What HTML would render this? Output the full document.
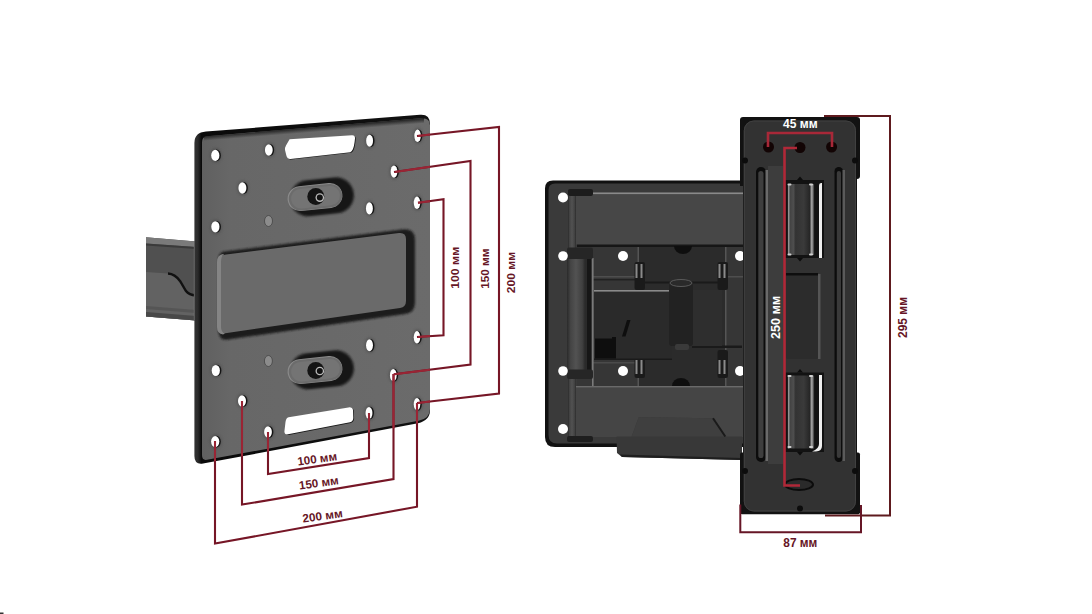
<!DOCTYPE html>
<html><head><meta charset="utf-8">
<style>
html,body{margin:0;padding:0;background:#fff;width:1092px;height:614px;overflow:hidden}
svg{display:block}
text{font-family:"Liberation Sans",sans-serif;font-weight:bold}
</style></head>
<body>
<svg width="1092" height="614" viewBox="0 0 1092 614">
<defs>
<linearGradient id="lpface" x1="0" y1="0" x2="1" y2="0">
<stop offset="0" stop-color="#606060"/><stop offset="0.12" stop-color="#676767"/><stop offset="1" stop-color="#6b6b6b"/>
</linearGradient>
<linearGradient id="lpedge" x1="0" y1="0" x2="1" y2="0">
<stop offset="0" stop-color="#333"/><stop offset="0.015" stop-color="#2a2a2a"/><stop offset="0.03" stop-color="#0a0a0a"/><stop offset="1" stop-color="#111"/>
</linearGradient>
<linearGradient id="cyl" x1="0" y1="0" x2="1" y2="0">
<stop offset="0" stop-color="#2a2a2a"/><stop offset="0.04" stop-color="#9a9a9a"/><stop offset="0.1" stop-color="#444"/><stop offset="0.22" stop-color="#4e4e4e"/><stop offset="0.3" stop-color="#333"/><stop offset="0.6" stop-color="#3a3a3a"/><stop offset="0.82" stop-color="#262626"/><stop offset="0.9" stop-color="#b0b0b0"/><stop offset="0.96" stop-color="#555"/><stop offset="1" stop-color="#1a1a1a"/>
</linearGradient>
<linearGradient id="tube" x1="0" y1="0" x2="1" y2="0">
<stop offset="0" stop-color="#2a2a2a"/><stop offset="0.2" stop-color="#444"/><stop offset="0.5" stop-color="#525252"/><stop offset="0.85" stop-color="#404040"/><stop offset="1" stop-color="#2a2a2a"/>
</linearGradient>
<radialGradient id="knobshadow" cx="0.6" cy="0.5" r="0.6">
<stop offset="0.6" stop-color="#151515"/><stop offset="1" stop-color="#151515" stop-opacity="0.6"/>
</radialGradient>
<filter id="b1" x="-10%" y="-10%" width="120%" height="120%"><feGaussianBlur stdDeviation="0.9"/></filter>
<filter id="b05" x="-10%" y="-10%" width="120%" height="120%"><feGaussianBlur stdDeviation="0.5"/></filter>
<linearGradient id="topshade" gradientUnits="userSpaceOnUse" x1="300" y1="128.2" x2="300.4" y2="133.2">
<stop offset="0" stop-color="#151515" stop-opacity="0.85"/><stop offset="1" stop-color="#151515" stop-opacity="0"/>
</linearGradient>
</defs>
<rect width="1092" height="614" fill="#fff"/>

<!-- ================= LEFT ARM ================= -->
<polygon points="146,237.3 196,241.5 196,320.6 146,316.4" fill="#505050"/>
<polygon points="146,237.3 196,241.5 196,247 146,243.5" fill="#7a7a7a"/>
<polygon points="146,243.5 196,247 196,249 146,245.5" fill="#3a3a3a"/>
<path d="M146,272 L168,273.5 Q175,274 180,281 L186,291 Q189,295 196,295.5 L196,320.6 L146,316.4 Z" fill="#626262"/>
<polygon points="146,306 196,310 196,313 146,309" fill="#555"/>
<polygon points="146,312 196,316 196,320.6 146,316.4" fill="#484848"/>
<path d="M168,273.5 Q175,274 180,281 L186,291 Q189,295 196,295.5" fill="none" stroke="#111" stroke-width="2.4"/>
<line x1="194.5" y1="241" x2="194.5" y2="321" stroke="#9a9a9a" stroke-width="1.2"/>

<!-- ================= LEFT PLATE ================= -->
<path d="M206,131.6 L420,114.8 Q430,114 430,124 L430,410 Q430,420.5 418,423.2 L203,463.6 Q194.4,465 194.4,456 L194.4,143 Q194.4,132.6 206,131.6 Z" fill="url(#lpedge)"/>
<path d="M207,136.2 L421,118.2 Q430,117.5 430,125.5 L430,409 Q430,418.5 418.5,420.8 L207,459.8 Q202,460.7 202,455 L202,142.5 Q202,136.6 207,136.2 Z" fill="url(#lpface)"/>
<polygon points="204,136.5 424,118 424,123.5 204,142" fill="url(#topshade)"/>

<!-- raised rect (embossed) -->
<path d="M224,251.5 L402,229.5 Q415,228 415,240 L415,303 Q415,312.5 405,314 L228,339.5 Q219,341 218.5,331 L218.5,259 Q219,252 224,251.5 Z" fill="#1e1e1e" filter="url(#b1)"/>
<path d="M226,254.5 L399,233 Q406,232.3 406,239 L406,301 Q406,307 400,308 L227,333 Q220,334 220,327 L220,261 Q220,255 226,254.5 Z" fill="#6a6a6a"/>
<path d="M217,262 Q217,255 223,254 L224,254.5 Q221,256 221,262 L221,327 Q221,332 225,333.5 L223,334.5 Q217,334 217,327 Z" fill="#858585"/>

<!-- hole rims -->
<g fill="#4a4a4a" opacity="0.5" filter="url(#b1)">
<ellipse cx="215.8" cy="155.4" rx="6.10" ry="7.60"/>
<ellipse cx="269.3" cy="150" rx="5.87" ry="7.76"/>
<ellipse cx="370.1" cy="140.7" rx="5.45" ry="8.06"/>
<ellipse cx="418.1" cy="135.8" rx="5.25" ry="8.21"/>
<ellipse cx="242.9" cy="188" rx="5.98" ry="7.68"/>
<ellipse cx="394.5" cy="171.7" rx="5.35" ry="8.14"/>
<ellipse cx="369.9" cy="208.4" rx="5.45" ry="8.06"/>
<ellipse cx="417.5" cy="202.8" rx="5.25" ry="8.21"/>
<ellipse cx="215.9" cy="226.8" rx="6.10" ry="7.60"/>
<ellipse cx="417.5" cy="337.3" rx="5.25" ry="8.21"/>
<ellipse cx="370.0" cy="345.3" rx="5.45" ry="8.06"/>
<ellipse cx="216.3" cy="370.5" rx="6.10" ry="7.60"/>
<ellipse cx="393.8" cy="375.2" rx="5.35" ry="8.13"/>
<ellipse cx="242.5" cy="401" rx="5.99" ry="7.68"/>
<ellipse cx="417.5" cy="404.2" rx="5.25" ry="8.21"/>
<ellipse cx="369.5" cy="413" rx="5.45" ry="8.06"/>
<ellipse cx="268.5" cy="432" rx="5.88" ry="7.76"/>
<ellipse cx="215.7" cy="441.6" rx="6.10" ry="7.60"/>
</g>
<g fill="#141414">
<ellipse cx="216.5" cy="155.4" rx="4.40" ry="5.80"/>
<ellipse cx="270.0" cy="150" rx="4.17" ry="5.96"/>
<ellipse cx="370.8" cy="140.7" rx="3.75" ry="6.26"/>
<ellipse cx="418.8" cy="135.8" rx="3.55" ry="6.41"/>
<ellipse cx="243.6" cy="188" rx="4.28" ry="5.88"/>
<ellipse cx="395.2" cy="171.7" rx="3.65" ry="6.34"/>
<ellipse cx="370.6" cy="208.4" rx="3.75" ry="6.26"/>
<ellipse cx="418.2" cy="202.8" rx="3.55" ry="6.41"/>
<ellipse cx="216.6" cy="226.8" rx="4.40" ry="5.80"/>
<ellipse cx="418.2" cy="337.3" rx="3.55" ry="6.41"/>
<ellipse cx="370.7" cy="345.3" rx="3.75" ry="6.26"/>
<ellipse cx="217.0" cy="370.5" rx="4.40" ry="5.80"/>
<ellipse cx="394.5" cy="375.2" rx="3.65" ry="6.33"/>
<ellipse cx="243.2" cy="401" rx="4.29" ry="5.88"/>
<ellipse cx="418.2" cy="404.2" rx="3.55" ry="6.41"/>
<ellipse cx="370.2" cy="413" rx="3.75" ry="6.26"/>
<ellipse cx="269.2" cy="432" rx="4.18" ry="5.96"/>
<ellipse cx="216.4" cy="441.6" rx="4.40" ry="5.80"/>
</g>
<g fill="#fff">
<ellipse cx="215.3" cy="155.4" rx="4.10" ry="5.60"/>
<ellipse cx="268.8" cy="150" rx="3.87" ry="5.76"/>
<ellipse cx="369.6" cy="140.7" rx="3.45" ry="6.06"/>
<ellipse cx="417.6" cy="135.8" rx="3.25" ry="6.21"/>
<ellipse cx="242.4" cy="188" rx="3.98" ry="5.68"/>
<ellipse cx="394.0" cy="171.7" rx="3.35" ry="6.14"/>
<ellipse cx="369.4" cy="208.4" rx="3.45" ry="6.06"/>
<ellipse cx="417.0" cy="202.8" rx="3.25" ry="6.21"/>
<ellipse cx="215.4" cy="226.8" rx="4.10" ry="5.60"/>
<ellipse cx="417.0" cy="337.3" rx="3.25" ry="6.21"/>
<ellipse cx="369.5" cy="345.3" rx="3.45" ry="6.06"/>
<ellipse cx="215.8" cy="370.5" rx="4.10" ry="5.60"/>
<ellipse cx="393.3" cy="375.2" rx="3.35" ry="6.13"/>
<ellipse cx="242.0" cy="401" rx="3.99" ry="5.68"/>
<ellipse cx="417.0" cy="404.2" rx="3.25" ry="6.21"/>
<ellipse cx="369.0" cy="413" rx="3.45" ry="6.06"/>
<ellipse cx="268.0" cy="432" rx="3.88" ry="5.76"/>
<ellipse cx="215.2" cy="441.6" rx="4.10" ry="5.60"/>
</g>
<!-- slots -->
<path d="M289.6,139.3 L352,135.3 Q355.2,135.2 355,138.5 L354.6,142 Q353.5,151 350.3,152.2 L290.5,159 Q287.5,159.3 286.5,156 L285,150 Q284.8,147.5 286,145.5 Z" fill="#1a1a1a" transform="translate(0.8,0.6)"/>
<path d="M289.6,139.3 L352,135.3 Q355.2,135.2 355,138.5 L354.6,142 Q353.5,151 350.3,152.2 L290.5,159 Q287.5,159.3 286.5,156 L285,150 Q284.8,147.5 286,145.5 Z" fill="#fff"/>
<path d="M288.6,417.3 L348.4,407.4 Q352.2,406.8 353,410 L353.3,418 Q353.2,421.3 350,422.3 L288,434.3 Q284.5,435 284.4,431.5 L285.5,422 Q286,418 288.6,417.3 Z" fill="#1a1a1a" transform="translate(0.8,0.6)"/>
<path d="M288.6,417.3 L348.4,407.4 Q352.2,406.8 353,410 L353.3,418 Q353.2,421.3 350,422.3 L288,434.3 Q284.5,435 284.4,431.5 L285.5,422 Q286,418 288.6,417.3 Z" fill="#fff"/>
<g fill="#8c8c8c" stroke="#4a4a4a" stroke-width="0.9">
<ellipse cx="268.5" cy="221" rx="4" ry="5.5"/>
<ellipse cx="268.4" cy="361" rx="4" ry="5.5"/>
</g>

<!-- knob slots -->
<g transform="rotate(-6 320 197)"><rect x="290" y="179" width="64" height="36" rx="18" fill="#161616" filter="url(#b1)"/><rect x="287.5" y="184" width="55" height="25" rx="12.5" fill="#8a8a8a"/><rect x="288.7" y="185" width="53.5" height="23.5" rx="11.7" fill="#6c6c6c"/><rect x="291" y="187" width="49" height="19.5" rx="9.7" fill="#747474"/></g>
<circle cx="315.8" cy="196.5" r="8.5" fill="#141414"/><circle cx="319.8" cy="197.6" r="4.3" fill="#bbb"/><circle cx="319.8" cy="197.6" r="3" fill="#111"/>
<g transform="rotate(-6 320 370)"><rect x="290" y="352" width="64" height="36" rx="18" fill="#161616" filter="url(#b1)"/><rect x="287.5" y="357" width="55" height="25" rx="12.5" fill="#8a8a8a"/><rect x="288.7" y="358" width="53.5" height="23.5" rx="11.7" fill="#6c6c6c"/><rect x="291" y="360" width="49" height="19.5" rx="9.7" fill="#747474"/></g>
<circle cx="315.8" cy="370.5" r="8.5" fill="#141414"/><circle cx="319.8" cy="371" r="4.3" fill="#bbb"/><circle cx="319.8" cy="371" r="3" fill="#111"/>

<!-- ================= LEFT RED DIMENSIONS ================= -->
<g fill="none" stroke="#761626" stroke-width="2.1">
<polyline points="417,136 499,127 499,393.5 417,403"/>
<polyline points="394,172 470.5,161 470.5,364.5 393.7,374.3"/>
<polyline points="418,202.8 443.5,199.3 443.5,335.2 417,337"/>
<polyline points="268,432 268,474 369,458 369,413"/>
<polyline points="242,401 242,504.6 393.5,479 393.5,374"/>
<polyline points="215,441 215,543.6 417,506.7 417,403"/>
</g>
<g fill="none" stroke="#9a2434" stroke-width="2">
<polyline points="418,135.9 430,134.6"/>
<polyline points="395,171.9 430,166.8"/>
<polyline points="418,202.7 430,201.2"/>
<polyline points="418,337 430,336.1"/>
<polyline points="394.5,374.2 430,369.7"/>
<polyline points="418,402.9 430,401.5"/>
<polyline points="268,432 268,451.5"/>
<polyline points="369,413 369,432.8"/>
<polyline points="242,401 242,456.2"/>
<polyline points="393.5,374 393.5,428.4"/>
<polyline points="215,441 215,461.2"/>
<polyline points="417,403 417,423.6"/>
</g>
<g fill="#661626" font-size="11.6">
<text transform="translate(458.6,288.8) rotate(-90)" textLength="42" lengthAdjust="spacingAndGlyphs">100 мм</text>
<text transform="translate(489.1,288.8) rotate(-90)" textLength="40.3" lengthAdjust="spacingAndGlyphs">150 мм</text>
<text transform="translate(514.6,293.2) rotate(-90)" textLength="41.3" lengthAdjust="spacingAndGlyphs">200 мм</text>
<text transform="translate(297.9,465.6) rotate(-7.8)" textLength="39.9" lengthAdjust="spacingAndGlyphs">100 мм</text>
<text transform="translate(299.5,489.6) rotate(-7.8)" textLength="39.9" lengthAdjust="spacingAndGlyphs">150 мм</text>
<text transform="translate(303.1,522.6) rotate(-7.8)" textLength="40.4" lengthAdjust="spacingAndGlyphs">200 мм</text>
</g>

<!-- ================= RIGHT ASSEMBLY ================= -->
<path d="M553,180.5 L760,180.5 L760,447 L555,447 Q545,447 545,437 L545,188.5 Q545,180.5 553,180.5 Z" fill="#111"/>
<path d="M555,183.5 L760,183.5 L760,443.5 L557,443.5 Q548.5,443.5 548.5,435 L548.5,190 Q548.5,183.5 555,183.5 Z" fill="#3a3a3a"/>
<!-- mechanism area -->
<rect x="577" y="244" width="166" height="142" fill="#363636"/>
<rect x="638" y="246" width="88" height="140" fill="#2b2b2b"/>
<rect x="637.5" y="246" width="1.5" height="140" fill="#555"/>
<rect x="725" y="246" width="1.5" height="140" fill="#555"/>
<rect x="593" y="276" width="45" height="1.5" fill="#4e4e4e"/>
<rect x="593" y="279" width="45" height="1.5" fill="#222"/>
<rect x="726" y="276" width="17" height="1.5" fill="#4e4e4e"/>
<rect x="593" y="362" width="45" height="1.5" fill="#4a4a4a"/>
<rect x="577" y="244" width="166" height="3" fill="#161616"/>
<path d="M674,246 A9,8 0 0 0 692,246 Z" fill="#0e0e0e"/>
<path d="M672,386 A9,8 0 0 1 690,386 Z" fill="#0e0e0e"/>
<rect x="645" y="281.5" width="73" height="2" fill="#1a1a1a"/>
<rect x="692" y="345.5" width="50" height="2.5" fill="#1a1a1a"/>
<!-- hinge clamps -->
<g fill="#1a1a1a"><rect x="634.5" y="262" width="10.5" height="28" rx="2"/><rect x="717.5" y="262" width="10.5" height="28" rx="2"/>
<rect x="634.5" y="350" width="10.5" height="28" rx="2"/><rect x="717.5" y="350" width="10.5" height="28" rx="2"/></g>
<g fill="#8a8a8a"><rect x="635.5" y="264" width="2" height="14"/><rect x="640.5" y="264" width="2" height="14"/><rect x="718.5" y="264" width="2" height="14"/><rect x="723.5" y="264" width="2" height="14"/>
<rect x="635.5" y="360" width="2" height="14"/><rect x="640.5" y="360" width="2" height="14"/><rect x="718.5" y="360" width="2" height="14"/><rect x="723.5" y="360" width="2" height="14"/></g>
<!-- tilt box -->
<rect x="594" y="290" width="78" height="70" fill="#2a2a2a"/>
<rect x="594" y="290" width="78" height="1.6" fill="#8a8a8a"/>
<rect x="594" y="358.5" width="78" height="1.5" fill="#1a1a1a"/>
<rect x="595" y="338.5" width="21" height="20" fill="#0e0e0e"/><rect x="612" y="337" width="4" height="2" fill="#0e0e0e"/>
<polygon points="627,320 630.5,320 625.5,336.5 622,336.5" fill="#0e0e0e"/>
<rect x="692" y="290" width="30" height="56" fill="#2e2e2e"/>
<rect x="669" y="283" width="24" height="63" rx="3" fill="#222"/>
<ellipse cx="681" cy="283" rx="11" ry="3.5" fill="#2a2a2a" stroke="#5a5a5a" stroke-width="1"/>
<rect x="675" y="344" width="14" height="6" rx="2" fill="#3a3a3a"/>
<!-- arms -->
<rect x="576" y="192.5" width="167" height="52" fill="#474747"/>
<rect x="576" y="192.5" width="167" height="1.6" fill="#8a8a8a"/>
<rect x="576" y="386" width="167" height="51" fill="#454545"/>
<rect x="576" y="386" width="167" height="1.4" fill="#6a6a6a"/>
<polygon points="616.5,436.5 631.7,436.5 638.7,417.3 713,418.3 725.3,436.5 742,436.5 742,460 622,457 617,453" fill="#383838"/>
<polygon points="631.7,436.5 638.7,417.3 713,418.3 725.3,436.5" fill="#3f3f3f"/>
<path d="M713,418.3 L725.3,436.5" stroke="#1a1a1a" stroke-width="2"/>
<polygon points="620,454.5 742,458 742,460 622,457" fill="#1e1e1e"/>
<!-- pivot tube -->
<rect x="568" y="190" width="8" height="60" fill="url(#tube)"/>
<rect x="567" y="258" width="18" height="112" fill="url(#tube)"/>
<rect x="585" y="258" width="2" height="112" fill="#2a2a2a"/><rect x="587" y="258" width="4" height="112" fill="#161616"/>
<rect x="592" y="258" width="1.6" height="128" fill="#7a7a7a"/>
<rect x="568" y="378" width="8" height="60" fill="url(#tube)"/>
<rect x="568" y="189" width="25" height="7" rx="2" fill="#1c1c1c"/>
<rect x="567" y="247.5" width="26" height="11.5" rx="2" fill="#262626"/>
<rect x="567" y="369.5" width="26" height="9.5" rx="2" fill="#262626"/>
<rect x="567" y="436" width="26" height="6" rx="2" fill="#1e1e1e"/>
<!-- holes -->
<g fill="#fff">
<circle cx="563" cy="197.5" r="5"/><circle cx="563" cy="256" r="4.8"/><circle cx="563" cy="371" r="4.8"/><circle cx="563" cy="429" r="5"/>
<circle cx="623" cy="256" r="5"/><circle cx="623" cy="371" r="5"/><circle cx="740" cy="256" r="5"/><circle cx="740" cy="371" r="5"/>
</g>

<!-- ================= VERTICAL PLATE ================= -->
<rect x="740" y="117" width="120" height="62" rx="3" fill="#121212"/><rect x="740" y="170" width="5" height="16" fill="#121212"/>
<rect x="740" y="452.5" width="120" height="61.8" rx="2" fill="#121212"/>
<rect x="743" y="170" width="114" height="290" fill="#121212"/>
<rect x="743.8" y="120.5" width="112.2" height="391" rx="10" fill="#323232"/>
<rect x="744.3" y="121" width="111.2" height="390" rx="9.5" fill="none" stroke="#404040" stroke-width="1"/>
<!-- slots -->
<rect x="768" y="166" width="15" height="298" fill="#3d3d3d"/>
<rect x="756" y="167" width="10" height="295" rx="5" fill="#0c0c0c"/>
<rect x="758.3" y="171" width="5.2" height="287" rx="2.6" fill="#3e3e3e"/>
<rect x="765.5" y="170" width="2.5" height="291" fill="#6a6a6a"/>
<rect x="834.5" y="167" width="8.5" height="295" rx="4.2" fill="#0c0c0c"/>
<rect x="836.8" y="171" width="4.2" height="287" rx="2.1" fill="#3a3a3a"/>
<rect x="842.5" y="170" width="2.5" height="291" fill="#5a5a5a"/>
<!-- hinges -->
<rect x="785.5" y="180" width="38.5" height="78" fill="#121212"/>
<rect x="787.5" y="184" width="27" height="71" fill="url(#cyl)"/>
<path d="M819,185.5 Q819,183 821,183 L822,183 L822,258 L819,258 Z" fill="#eee"/>
<rect x="786" y="273" width="32" height="86" rx="2" fill="#2c2c2c"/><rect x="786" y="273" width="32" height="2.5" fill="#0e0e0e"/><rect x="818" y="274" width="2.5" height="85" fill="#555"/>
<rect x="785.5" y="372.5" width="38.5" height="79.5" fill="#121212"/>
<rect x="787.5" y="375.5" width="27" height="73" fill="url(#cyl)"/>
<path d="M819,375 L822,375 L822,446 Q822,451 816,451.5 L812,451.5 Q819,449 819,444 Z" fill="#eee"/>
<g fill="#d0d0d0">
<rect x="787.5" y="183.5" width="4" height="2" rx="1"/><rect x="809" y="183.5" width="4" height="2" rx="1"/>
<rect x="787.5" y="253.5" width="4" height="2" rx="1"/><rect x="809" y="253.5" width="4" height="2" rx="1"/>
<rect x="787.5" y="375" width="4" height="2" rx="1"/><rect x="809" y="375" width="4" height="2" rx="1"/>
<rect x="787.5" y="446" width="4" height="2" rx="1"/><rect x="809" y="446" width="4" height="2" rx="1"/>
</g>
<g fill="#0c0c0c">
<path d="M797,180 L800,176.5 L803,180 Z"/><path d="M797,258 L800,261.5 L803,258 Z"/>
<path d="M797,372.5 L800,369 L803,372.5 Z"/><path d="M797,452 L800,455.5 L803,452 Z"/>
</g>
<ellipse cx="799" cy="484.5" rx="14" ry="5.5" fill="#2a2a2a" stroke="#0c0c0c" stroke-width="2"/>
<!-- notches -->
<g fill="#0c0c0c">
<circle cx="745" cy="160.5" r="3"/><circle cx="855" cy="160.5" r="3"/>
<circle cx="745" cy="471" r="3"/><circle cx="855" cy="471" r="3"/>
<circle cx="800" cy="508.4" r="3"/>
</g>
<!-- top holes -->
<g fill="#120404">
<circle cx="768.5" cy="147" r="5.5"/><circle cx="800" cy="147.5" r="5.5"/><circle cx="831.6" cy="147" r="5.5"/>
</g>

<!-- ================= RIGHT RED DIMENSIONS ================= -->
<g fill="none" stroke-width="2">
<polyline stroke="#a82838" stroke-width="2.6" points="768,147 768,133 832,133 832,147"/>
<polyline stroke="#b02838" stroke-width="2.6" points="797,148 784.5,148 784.5,485.5 800,485.5"/>
<polyline stroke="#5e1a1e" points="824,116 890,116 890,515.5 825,515.5"/>
<polyline stroke="#661626" points="740.3,504.5 740.3,532.3 861,532.3 861,505"/>
</g>
<text x="783" y="128" fill="#fff" font-size="12.8" textLength="34.6" lengthAdjust="spacingAndGlyphs">45 мм</text>
<text transform="translate(779.6,339) rotate(-90)" fill="#fff" font-size="13.2" textLength="43" lengthAdjust="spacingAndGlyphs">250 мм</text>
<text transform="translate(907,338) rotate(-90)" fill="#661626" font-size="12.8" textLength="41" lengthAdjust="spacingAndGlyphs">295 мм</text>
<text x="783.3" y="547" fill="#661626" font-size="12.8" textLength="34" lengthAdjust="spacingAndGlyphs">87 мм</text>
<rect x="0" y="612.5" width="3.5" height="1.5" fill="#333"/>
</svg>
</body></html>
